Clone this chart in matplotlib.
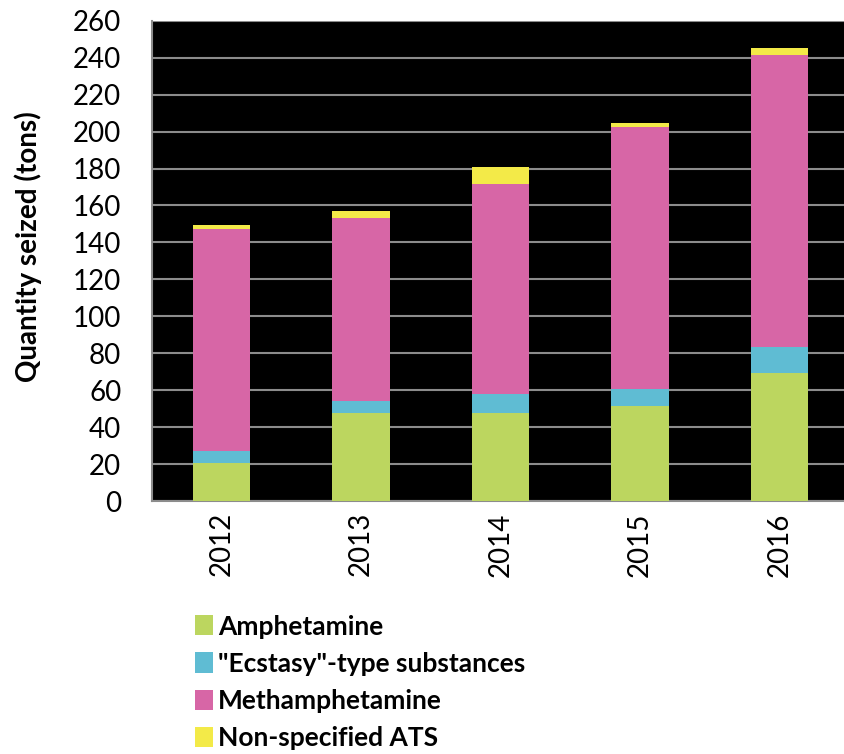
import matplotlib
matplotlib.use("Agg")
import matplotlib.pyplot as plt
import numpy as np

plt.rcParams['font.family'] = ['Lato', 'DejaVu Sans']

# Data (tons)
years = ['2012', '2013', '2014', '2015', '2016']
amphetamine = [20.6, 47.9, 47.9, 51.3, 69.4]
ecstasy = [6.4, 6.3, 9.8, 9.6, 14.1]
methamphetamine = [120.1, 98.9, 114.0, 141.8, 158.1]
non_specified = [2.5, 4.1, 9.1, 1.8, 3.9]

series = [
    ("Amphetamine", amphetamine, '#bcd65f'),
    ('"Ecstasy"-type substances', ecstasy, '#5fbcd3'),
    ("Methamphetamine", methamphetamine, '#d766a6'),
    ("Non-specified ATS", non_specified, '#f3ea48'),
]

fig = plt.figure(figsize=(8.44, 7.54), dpi=100)
ax = fig.add_axes([0.180, 0.3355, 0.826, 0.637])
ax.set_facecolor('black')

x = np.arange(len(years))
bottom = np.zeros(len(years))
handles = []
for name, vals, color in series:
    b = ax.bar(x, vals, width=0.41, bottom=bottom, color=color, label=name, zorder=3)
    handles.append(b)
    bottom += np.array(vals)

ax.set_ylim(0, 260)
ax.set_yticks(range(0, 261, 20))
ax.set_xlim(-0.5, 4.5)
ax.set_xticks(x)
ax.set_xticklabels(years, rotation=90)
ax.yaxis.grid(True, color='#8c8c8c', linewidth=1.5, zorder=0)
ax.set_axisbelow(True)
ax.tick_params(axis='both', length=0, labelsize=20)
ax.tick_params(axis='x', pad=8)
ax.tick_params(axis='y', pad=22)
for s in ['top', 'right']:
    ax.spines[s].set_visible(False)
for s in ['left', 'bottom']:
    ax.spines[s].set_color('#8c8c8c')
    ax.spines[s].set_linewidth(1.5)

ax.set_ylabel("Quantity seized (tons)", fontsize=20, fontweight='bold')
ax.yaxis.set_label_coords(-0.158, 0.53)

fig.legend(handles=handles, loc='upper left', bbox_to_anchor=(0.218, 0.199),
           frameon=False, prop={'weight': 'bold', 'size': 19},
           handlelength=0.7, handleheight=0.8, handletextpad=0.2,
           labelspacing=0.5, borderaxespad=0)

fig.savefig("out.png", dpi=100)
